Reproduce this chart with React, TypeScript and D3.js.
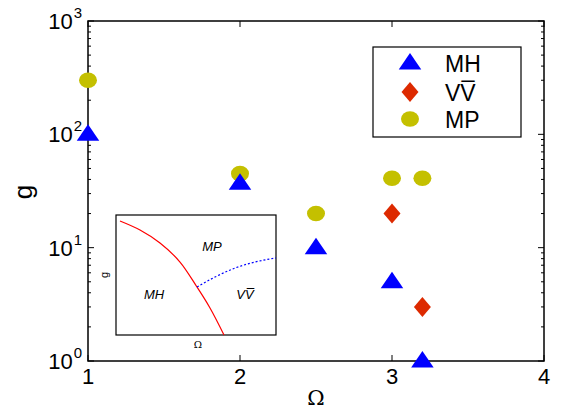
import React, { useEffect, useRef } from "react";
import * as d3 from "d3";

// main data (Omega, g)
const mhOmega = [1, 2, 2.5, 3, 3.2];
const mhG = [100, 37, 10, 5, 1];
const vvOmega = [3, 3.2];
const vvG = [20, 3];
const mpOmega = [1, 2, 2.5, 3, 3.2];
const mpG = [300, 45, 20, 41, 41];

const xTicks = [1, 2, 3, 4];
const yExps = [0, 1, 2, 3];

// inset phase diagram (normalised coords)
const redX = [0.025, 0.15, 0.275, 0.4, 0.506, 0.5875, 0.675];
const redY = [0.95, 0.875, 0.767, 0.608, 0.4, 0.225, 0];
const blueX = [0.506, 0.619, 0.744, 0.869, 1];
const blueY = [0.4, 0.483, 0.558, 0.608, 0.642];

const W = 563, H = 416;
const FONT = "'Liberation Sans', Arial, sans-serif";

export default function App() {
  const ref = useRef<SVGSVGElement>(null);

  useEffect(() => {
    const svg = d3.select(ref.current);
    svg.selectAll("*").remove();

    const left = 88, right = 544, top = 21, bottom = 361;
    const x = d3.scaleLinear().domain([1, 4]).range([left, right]);
    const y = d3.scaleLog().domain([1, 1000]).range([bottom, top]);

    svg.append("rect").attr("width", W).attr("height", H).attr("fill", "#fff");

    const g = svg.append("g");

    // y ticks, major + minor, on both sides, inward
    const minors: number[] = [];
    for (let e = 0; e < 3; e++) for (let m = 2; m <= 9; m++) minors.push(m * Math.pow(10, e));
    minors.forEach((v) => {
      g.append("line").attr("x1", left).attr("x2", left + 3).attr("y1", y(v)).attr("y2", y(v)).attr("stroke", "#000").attr("stroke-width", 1);
      g.append("line").attr("x1", right).attr("x2", right - 3).attr("y1", y(v)).attr("y2", y(v)).attr("stroke", "#000").attr("stroke-width", 1);
    });
    yExps.forEach((e) => {
      const v = Math.pow(10, e);
      g.append("line").attr("x1", left).attr("x2", left + 6).attr("y1", y(v)).attr("y2", y(v)).attr("stroke", "#000");
      g.append("line").attr("x1", right).attr("x2", right - 6).attr("y1", y(v)).attr("y2", y(v)).attr("stroke", "#000");
      const t = g.append("text").attr("x", left - 6).attr("y", y(v) + 8).attr("text-anchor", "end")
        .style("font-family", FONT).style("font-size", "22px");
      t.append("tspan").text("10");
      t.append("tspan").attr("dy", -11).attr("dx", 1).style("font-size", "15px").text(String(e));
    });

    xTicks.forEach((v) => {
      g.append("line").attr("x1", x(v)).attr("x2", x(v)).attr("y1", bottom).attr("y2", bottom - 6).attr("stroke", "#000");
      g.append("line").attr("x1", x(v)).attr("x2", x(v)).attr("y1", top).attr("y2", top + 6).attr("stroke", "#000");
      g.append("text").attr("x", x(v)).attr("y", bottom + 23).attr("text-anchor", "middle")
        .style("font-family", FONT).style("font-size", "22px").text(String(v));
    });

    g.append("rect").attr("x", left).attr("y", top).attr("width", right - left).attr("height", bottom - top)
      .attr("fill", "none").attr("stroke", "#000").attr("stroke-width", 1.5);

    g.append("text").attr("x", 316).attr("y", 405).attr("text-anchor", "middle")
      .style("font-family", "'DejaVu Serif', serif").style("font-size", "21px").text("Ω");
    g.append("text").attr("transform", `translate(32, 192) rotate(-90)`).attr("text-anchor", "middle")
      .style("font-family", FONT).style("font-size", "26px").text("g");

    // inset
    const ix = d3.scaleLinear().domain([0, 1]).range([116, 276]);
    const iy = d3.scaleLinear().domain([0, 1]).range([335, 215]);
    g.append("rect").attr("x", 116).attr("y", 215).attr("width", 160).attr("height", 120)
      .attr("fill", "#fff").attr("stroke", "#000").attr("stroke-width", 1.2);
    const line = d3.line<[number, number]>().x((d) => ix(d[0])).y((d) => iy(d[1])).curve(d3.curveMonotoneX);
    const lineR = d3.line<[number, number]>().x((d) => ix(d[0])).y((d) => iy(d[1])).curve(d3.curveCatmullRom);
    g.append("path").attr("d", lineR(redX.map((v, i) => [v, redY[i]] as [number, number])))
      .attr("fill", "none").attr("stroke", "#f00").attr("stroke-width", 1.2);
    g.append("path").attr("d", line(blueX.map((v, i) => [v, blueY[i]] as [number, number])))
      .attr("fill", "none").attr("stroke", "#00f").attr("stroke-width", 1.2).attr("stroke-dasharray", "2,2");
    const insetText = (tx: number, ty: number, s: string) =>
      g.append("text").attr("x", tx).attr("y", ty).attr("text-anchor", "middle")
        .style("font-family", FONT).style("font-size", "13px").style("font-style", "italic").text(s);
    insetText(212, 251, "MP");
    insetText(154, 299, "MH");
    insetText(245, 299, "VV\u0305");
    g.append("text").attr("x", 198).attr("y", 348).attr("text-anchor", "middle")
      .style("font-family", "'DejaVu Serif', serif").style("font-size", "10px").text("Ω");
    g.append("text").attr("transform", "translate(108, 275) rotate(-90)").attr("text-anchor", "middle")
      .style("font-family", FONT).style("font-size", "11px").text("g");

    // markers
    const tri = d3.symbol().type(d3.symbolTriangle).size(175);
    const drawTri = (cx: number, cy: number) =>
      g.append("path").attr("d", tri()).attr("transform", `translate(${cx},${cy + 1}) scale(1.12,0.95)`).attr("fill", "#0000ff");
    const drawDia = (cx: number, cy: number) =>
      g.append("path").attr("d", `M0,-10L8.5,0L0,10L-8.5,0Z`).attr("transform", `translate(${cx},${cy})`).attr("fill", "#dd2a00");
    const drawCirc = (cx: number, cy: number) =>
      g.append("ellipse").attr("cx", cx).attr("cy", cy).attr("rx", 9).attr("ry", 7.8).attr("fill", "#c4c000");

    mpOmega.forEach((v, i) => drawCirc(x(v), y(mpG[i])));
    vvOmega.forEach((v, i) => drawDia(x(v), y(vvG[i])));
    mhOmega.forEach((v, i) => drawTri(x(v), y(mhG[i])));

    // legend
    g.append("rect").attr("x", 373).attr("y", 47).attr("width", 148).attr("height", 90)
      .attr("fill", "#fff").attr("stroke", "#000").attr("stroke-width", 1.2);
    const labels = ["MH", "VV\u0305", "MP"];
    const ly = [63, 92, 119];
    drawTri(410, ly[0]);
    drawDia(410, ly[1]);
    drawCirc(410, ly[2]);
    labels.forEach((s, i) =>
      g.append("text").attr("x", 445).attr("y", ly[i] + 9).style("font-family", FONT).style("font-size", "23px").text(s));
  }, []);

  return (
    <svg ref={ref} width={W} height={H} style={{ position: "absolute", left: 0, top: 0 }} />
  );
}
